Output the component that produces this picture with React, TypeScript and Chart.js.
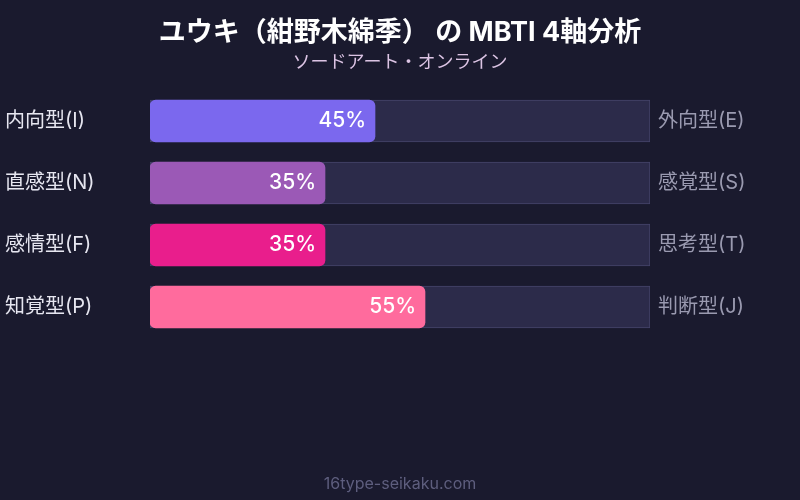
import React, { useEffect, useRef } from "react";
import { Chart, registerables } from "chart.js";

Chart.register(...registerables);

const TITLE = "ユウキ（紺野木綿季） の MBTI 4軸分析";
const SUBTITLE = "ソードアート・オンライン";
const FOOTER = "16type-seikaku.com";

const leftLabels = ["内向型(I)", "直感型(N)", "感情型(F)", "知覚型(P)"];
const rightLabels = ["外向型(E)", "感覚型(S)", "思考型(T)", "判断型(J)"];
const values = [45, 35, 35, 55];
const trackValues = [100, 100, 100, 100];
const barColors = ["#7b68ee", "#9b59b6", "#e91e8c", "#ff6b9d"];

const FONT = "Inter, 'Noto Sans CJK JP', sans-serif";
const BG = "#1a1a2e";

// draws title, side labels, value labels and footer
const textPlugin = {
  id: "mbtiText",
  afterDatasetsDraw(chart: Chart) {
    const { ctx, width, height } = chart;
    const yScale = chart.scales.y;
    const xScale = chart.scales.x;
    ctx.save();
    ctx.textBaseline = "middle";

    ctx.textAlign = "center";
    ctx.fillStyle = "#ffffff";
    ctx.font = `bold 27px ${FONT}`;
    ctx.fillText(TITLE, width / 2, 33);
    ctx.fillStyle = "#dcc4e4";
    ctx.font = `18px ${FONT}`;
    ctx.fillText(SUBTITLE, width / 2, 63);

    leftLabels.forEach((label, i) => {
      const y = yScale.getPixelForValue(i);
      ctx.textAlign = "left";
      ctx.fillStyle = "#e6e6f0";
      ctx.font = `20px ${FONT}`;
      ctx.fillText(label, 5, y);
      ctx.fillStyle = "#9a9ab0";
      ctx.fillText(rightLabels[i], chart.chartArea.right + 8, y);
      ctx.textAlign = "right";
      ctx.fillStyle = "#ffffff";
      ctx.font = `500 21px ${FONT}`;
      ctx.fillText(`${values[i]}%`, xScale.getPixelForValue(values[i]) - 9, y);
    });

    ctx.textAlign = "center";
    ctx.fillStyle = "#5e5e7e";
    ctx.font = `16px ${FONT}`;
    ctx.fillText(FOOTER, width / 2, height - 16);
    ctx.restore();
  },
};

const MbtiChart: React.FC = () => {
  const canvasRef = useRef<HTMLCanvasElement>(null);

  useEffect(() => {
    if (!canvasRef.current) return;
    const chart = new Chart(canvasRef.current, {
      type: "bar",
      data: {
        labels: leftLabels,
        datasets: [
          {
            data: values,
            backgroundColor: barColors,
            borderRadius: 6,
            borderSkipped: false,
            barThickness: 42,
            grouped: false,
          },
          {
            data: trackValues,
            backgroundColor: "#2c2b4a",
            borderColor: "#45446a",
            borderWidth: 1,
            borderSkipped: false,
            barThickness: 42,
            grouped: false,
          },
        ],
      },
      options: {
        indexAxis: "y",
        animation: false,
        responsive: true,
        maintainAspectRatio: false,
        layout: { padding: { left: 150, right: 150, top: 90, bottom: 162 } },
        scales: {
          x: { display: false, min: 0, max: 100 },
          y: { display: false },
        },
        plugins: {
          legend: { display: false },
          title: { display: false },
          tooltip: { enabled: false },
        },
      },
      plugins: [textPlugin],
    });
    return () => chart.destroy();
  }, []);

  return (
    <div
      style={{
        position: "absolute",
        left: 0,
        top: 0,
        width: 800,
        height: 500,
        background: BG,
      }}
    >
      <canvas ref={canvasRef}></canvas>
    </div>
  );
};

export default function App() {
  return <MbtiChart />;
}
